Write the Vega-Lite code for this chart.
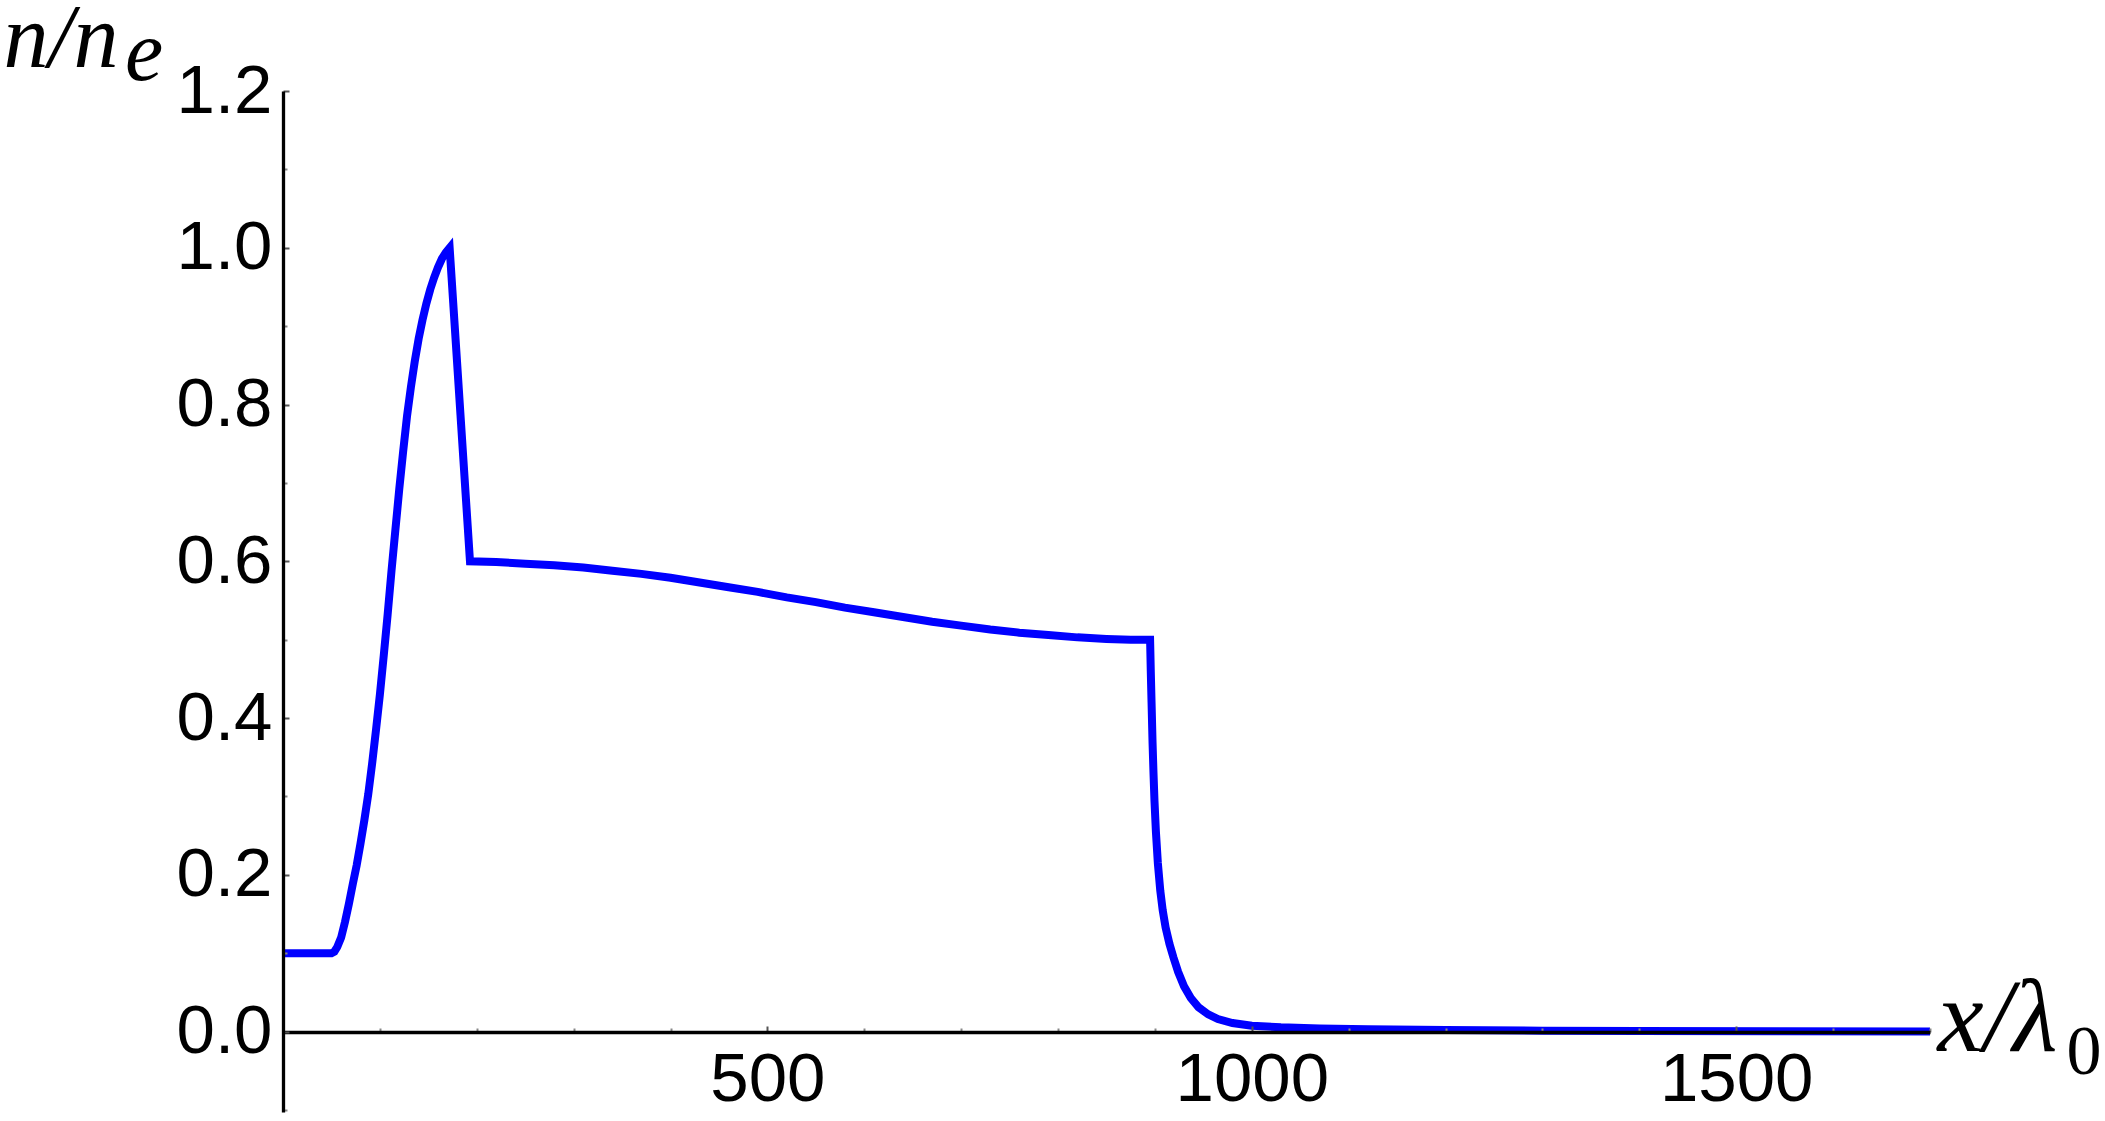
{
  "$schema": "https://vega.github.io/schema/vega-lite/v6.json",
  "width": 1647,
  "height": 1021,
  "autosize": "none",
  "padding": {"left": 283, "top": 91, "right": 175, "bottom": 9},
  "background": "white",
  "config": {"view": {"stroke": null}},
  "layer": [
    {
      "data": {"values": [
        {"x": 0, "n": 0.1}, {"x": 50, "n": 0.1}, {"x": 53, "n": 0.102}, {"x": 56, "n": 0.108},
        {"x": 60, "n": 0.12}, {"x": 64, "n": 0.14}, {"x": 68, "n": 0.163}, {"x": 72, "n": 0.188},
        {"x": 76, "n": 0.212}, {"x": 80, "n": 0.24}, {"x": 84, "n": 0.27}, {"x": 88, "n": 0.303},
        {"x": 92, "n": 0.342}, {"x": 96, "n": 0.385}, {"x": 100, "n": 0.43}, {"x": 104, "n": 0.48},
        {"x": 108, "n": 0.532}, {"x": 112, "n": 0.588}, {"x": 116, "n": 0.64}, {"x": 120, "n": 0.692},
        {"x": 124, "n": 0.74}, {"x": 128, "n": 0.785}, {"x": 132, "n": 0.822}, {"x": 136, "n": 0.855},
        {"x": 140, "n": 0.884}, {"x": 144, "n": 0.908}, {"x": 148, "n": 0.929}, {"x": 152, "n": 0.947},
        {"x": 156, "n": 0.962}, {"x": 160, "n": 0.975}, {"x": 164, "n": 0.986}, {"x": 168, "n": 0.994},
        {"x": 172, "n": 1.0}, {"x": 193, "n": 0.6}, {"x": 220, "n": 0.599}, {"x": 250, "n": 0.597},
        {"x": 280, "n": 0.595}, {"x": 310, "n": 0.592}, {"x": 340, "n": 0.588}, {"x": 370, "n": 0.584},
        {"x": 400, "n": 0.579}, {"x": 430, "n": 0.573}, {"x": 460, "n": 0.567}, {"x": 490, "n": 0.561},
        {"x": 520, "n": 0.554}, {"x": 550, "n": 0.548}, {"x": 580, "n": 0.541}, {"x": 610, "n": 0.535},
        {"x": 640, "n": 0.529}, {"x": 670, "n": 0.523}, {"x": 700, "n": 0.518}, {"x": 730, "n": 0.513},
        {"x": 760, "n": 0.509}, {"x": 790, "n": 0.506}, {"x": 820, "n": 0.503}, {"x": 850, "n": 0.501},
        {"x": 875, "n": 0.5}, {"x": 895, "n": 0.5}, {"x": 895.7, "n": 0.46}, {"x": 896.5, "n": 0.42},
        {"x": 897.5, "n": 0.37}, {"x": 898.5, "n": 0.33}, {"x": 899.5, "n": 0.295}, {"x": 901, "n": 0.255},
        {"x": 903, "n": 0.215}, {"x": 905.5, "n": 0.18}, {"x": 908, "n": 0.155}, {"x": 911, "n": 0.133},
        {"x": 915, "n": 0.112}, {"x": 919, "n": 0.095}, {"x": 924, "n": 0.076}, {"x": 930, "n": 0.058},
        {"x": 937, "n": 0.043}, {"x": 945, "n": 0.031}, {"x": 955, "n": 0.022}, {"x": 965, "n": 0.016},
        {"x": 980, "n": 0.011}, {"x": 1000, "n": 0.0075}, {"x": 1030, "n": 0.0055}, {"x": 1070, "n": 0.004},
        {"x": 1120, "n": 0.003}, {"x": 1200, "n": 0.002}, {"x": 1300, "n": 0.0013}, {"x": 1400, "n": 0.0009},
        {"x": 1550, "n": 0.0005}, {"x": 1700, "n": 0.0003}
      ]},
      "mark": {"type": "line", "color": "#0000FF", "strokeWidth": 8, "strokeJoin": "miter", "clip": false},
      "encoding": {
        "x": {
          "field": "x", "type": "quantitative",
          "scale": {"domain": [0, 1700], "nice": false, "zero": false},
          "axis": {
            "values": [0,100,200,300,400,500,600,700,800,900,1000,1100,1200,1300,1400,1500,1600,1700],
            "labelExpr": "datum.value % 500 == 0 && datum.value > 0 ? format(datum.value, 'd') : ''",
            "offset": -80,
            "grid": false,
            "zindex": 1,
            "domainColor": "black",
            "domainWidth": 3.3,
            "tickSize": {"condition": {"test": "datum.value % 500 == 0", "value": -6}, "value": -4},
            "tickColor": {"condition": {"test": "datum.value % 500 == 0", "value": "#555555"}, "value": "#888888"},
            "tickWidth": 2,
            "labelPadding": 19,
            "labelFont": "Liberation Sans",
            "labelFontSize": 69,
            "labelColor": "black",
            "labelOverlap": false,
            "labelFlush": false,
            "labelBound": false,
            "title": "x/λ",
            "titleFont": "Liberation Serif",
            "titleFontStyle": "italic",
            "titleFontWeight": "normal",
            "titleFontSize": 104,
            "titleColor": "black",
            "titleAngle": 0,
            "titleAlign": "left",
            "titleBaseline": "alphabetic",
            "titleX": 1654,
            "titleY": 18
          }
        },
        "y": {
          "field": "n", "type": "quantitative",
          "scale": {"domain": [-0.1025, 1.2], "nice": false, "zero": false},
          "axis": {
            "values": [-0.1,-0.05,0,0.05,0.1,0.15,0.2,0.25,0.3,0.35,0.4,0.45,0.5,0.55,0.6,0.65,0.7,0.75,0.8,0.85,0.9,0.95,1.0,1.05,1.1,1.15,1.2],
            "labelExpr": "abs(round(datum.value*100)) % 20 == 0 && datum.value > -0.01 ? format(datum.value, '.1f') : ''",
            "grid": false,
            "zindex": 1,
            "domainColor": "black",
            "domainWidth": 3.3,
            "tickSize": {"condition": {"test": "abs(round(datum.value*100)) % 20 == 0", "value": -6}, "value": -4},
            "tickColor": {"condition": {"test": "abs(round(datum.value*100)) % 20 == 0", "value": "#555555"}, "value": "#888888"},
            "tickWidth": 2,
            "labelPadding": 17,
            "labelFont": "Liberation Sans",
            "labelFontSize": 69,
            "labelColor": "black",
            "labelOverlap": false,
            "labelFlush": false,
            "labelBound": false,
            "title": "n/n",
            "titleFont": "Liberation Serif",
            "titleFontStyle": "italic",
            "titleFontWeight": "normal",
            "titleFontSize": 90,
            "titleColor": "black",
            "titleAngle": 0,
            "titleAlign": "left",
            "titleBaseline": "alphabetic",
            "titleX": -280,
            "titleY": -25
          }
        }
      }
    },
    {
      "data": {"values": [{"label": "e"}]},
      "mark": {"type": "text", "font": "Liberation Serif", "fontStyle": "italic", "fontSize": 86, "align": "left", "baseline": "alphabetic", "color": "black"},
      "encoding": {
        "text": {"field": "label", "type": "nominal"},
        "x": {"datum": -163, "type": "quantitative", "scale": {"domain": [0, 1700], "nice": false, "zero": false}},
        "y": {"datum": 1.2144, "type": "quantitative", "scale": {"domain": [-0.1025, 1.2], "nice": false, "zero": false}}
      }
    },
    {
      "data": {"values": [{"label": "0"}]},
      "mark": {"type": "text", "font": "Liberation Serif", "fontSize": 70, "align": "left", "baseline": "alphabetic", "color": "black"},
      "encoding": {
        "text": {"field": "label", "type": "nominal"},
        "x": {"datum": 1841, "type": "quantitative", "scale": {"domain": [0, 1700], "nice": false, "zero": false}},
        "y": {"datum": -0.054, "type": "quantitative", "scale": {"domain": [-0.1025, 1.2], "nice": false, "zero": false}}
      }
    }
  ]
}
